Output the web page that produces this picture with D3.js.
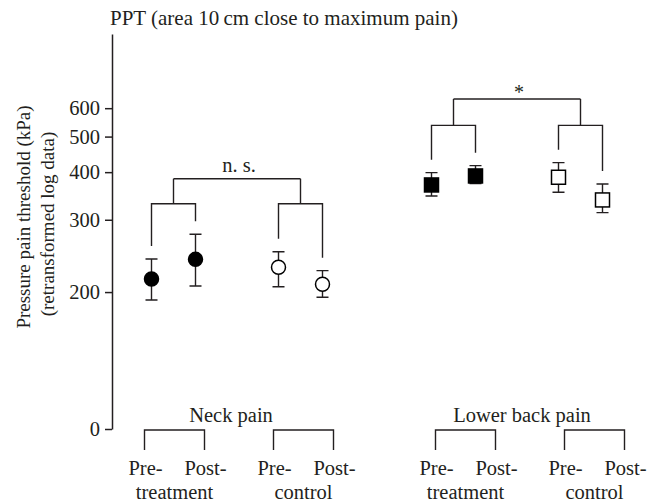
<!DOCTYPE html>
<html>
<head>
<meta charset="utf-8">
<script src="https://cdn.jsdelivr.net/npm/d3@7"></script>
<style>
    body { margin: 0; background: #fff; }
    .chartText { font-family: "Liberation Serif", "Times New Roman", serif; fill: #231f20; }
    .line { stroke: #231f20; stroke-width: 1.4; fill: none; }
</style>
</head>
<body>
<script>
(function(){
    //pseudo-global variables
    var groups = ["Neck pain", "Lower back pain"]; //body regions
    var arms = ["treatment", "control"]; //study arms
    var times = ["Pre-", "Post-"]; //measurement times

    //means and error bar ends in kPa, order: pre-treat, post-treat, pre-control, post-control
    var neckMean = [214.5, 239, 228.7, 208.5];
    var neckUpper = [239.5, 275.7, 249.5, 224.5];
    var neckLower = [191.8, 206.6, 205.8, 194.6];
    var backMean = [369.7, 390.7, 387.6, 337.6];
    var backUpper = [398.8, 416.5, 424.3, 372];
    var backLower = [345.8, 372.7, 353.6, 312.9];

    var tickValues = [200, 300, 400, 500, 600]; //y axis ticks (kPa)
    var subBracketLevel = [330, 537]; //kPa level of the arm brackets per group
    var topBracketLevel = [384, 637]; //kPa level of the group comparison bracket
    var significance = ["n. s.", "*"];

    var logOffset = 50; //axis is log of (kPa - 50)
    var fontSize = 20.5;

    window.onload = setChart;

    function setChart(){
        var width = 661,
            height = 504;

        var svg = d3.select("body")
            .append("svg")
            .attr("width", width)
            .attr("height", height);

        //log scale on shifted values, bottom of axis shows the "0" break
        var y = d3.scaleLog()
            .domain([57, 929])
            .range([429, 34]);

        function yPos(v){
            return y(v - logOffset);
        }

        //x scales for the data points
        var groupX = d3.scalePoint().domain(groups).range([237, 517]);
        var armX = d3.scalePoint().domain(arms).range([-63.5, 63.5]);
        var timeX = d3.scalePoint().domain(times).range([-22, 22]);

        //x scales for the category labels below the axis
        var labelGroupX = d3.scalePoint().domain(groups).range([239, 530]);
        var labelArmX = d3.scalePoint().domain(arms).range([-64.5, 64.5]);
        var labelTimeX = d3.scalePoint().domain(times).range([-30, 30]);

        //build point records
        var points = [];
        var allMean = [neckMean, backMean],
            allUpper = [neckUpper, backUpper],
            allLower = [neckLower, backLower];
        groups.forEach(function(g, gi){
            arms.forEach(function(a, ai){
                times.forEach(function(t, ti){
                    var k = ai * 2 + ti;
                    points.push({
                        group: g, arm: a, time: t, gi: gi,
                        mean: allMean[gi][k],
                        upper: allUpper[gi][k],
                        lower: allLower[gi][k],
                        x: groupX(g) + armX(a) + timeX(t)
                    });
                });
            });
        });

        //title
        svg.append("text")
            .attr("class", "chartText")
            .attr("x", 110)
            .attr("y", 25)
            .attr("font-size", 21)
            .text("PPT (area 10\u2009cm close to maximum pain)");

        //y axis
        var yAxis = d3.axisLeft(y)
            .tickValues([y.domain()[0]].concat(tickValues.map(function(v){ return v - logOffset; })))
            .tickFormat(function(d){
                return d === y.domain()[0] ? "0" : d + logOffset;
            })
            .tickSizeInner(7)
            .tickSizeOuter(0)
            .tickPadding(5);

        var axis = svg.append("g")
            .attr("transform", "translate(112,0)")
            .call(yAxis);
        axis.selectAll("path, line")
            .attr("stroke", "#231f20")
            .attr("stroke-width", 1.5);
        axis.selectAll("text")
            .attr("class", "chartText")
            .attr("font-size", fontSize);

        //y axis title
        var yTitle = svg.append("text")
            .attr("class", "chartText")
            .attr("font-size", 19)
            .attr("text-anchor", "middle")
            .attr("transform", "translate(30,217) rotate(-90)");
        yTitle.append("tspan").attr("x", 0).attr("y", 0).text("Pressure pain threshold (kPa)");
        yTitle.append("tspan").attr("x", -7).attr("y", 24).text("(retransformed log data)");

        //brackets above the data
        groups.forEach(function(g, gi){
            var subY = yPos(subBracketLevel[gi]),
                topY = yPos(topBracketLevel[gi]);
            arms.forEach(function(a){
                var pair = points.filter(function(p){ return p.group === g && p.arm === a; });
                var x0 = pair[0].x, x1 = pair[1].x;
                var legBottom0 = yPos(pair[0].upper) - 13,
                    legBottom1 = yPos(pair[1].upper) - 13;
                svg.append("path")
                    .attr("class", "line")
                    .attr("d", "M" + x0 + "," + legBottom0 + "V" + subY + "H" + x1 + "V" + legBottom1);
                //connector up to the group bracket
                svg.append("line")
                    .attr("class", "line")
                    .attr("x1", groupX(g) + armX(a)).attr("x2", groupX(g) + armX(a))
                    .attr("y1", subY).attr("y2", topY);
            });
            svg.append("line")
                .attr("class", "line")
                .attr("x1", groupX(g) + armX(arms[0]))
                .attr("x2", groupX(g) + armX(arms[1]))
                .attr("y1", topY).attr("y2", topY);
            svg.append("text")
                .attr("class", "chartText")
                .attr("x", groupX(g) + 2)
                .attr("y", topY - (gi === 0 ? 7 : 0))
                .attr("font-size", gi === 0 ? fontSize : 20)
                .attr("fill", gi === 0 ? "#231f20" : "#555")
                .attr("text-anchor", "middle")
                .text(significance[gi]);
        });

        //error bars
        var bars = svg.selectAll(".errBar")
            .data(points)
            .enter()
            .append("path")
            .attr("class", "line errBar")
            .attr("d", function(d){
                var yt = yPos(d.upper), yb = yPos(d.lower);
                return "M" + (d.x - 6) + "," + yt + "H" + (d.x + 6) +
                    "M" + d.x + "," + yt + "V" + yb +
                    "M" + (d.x - 6) + "," + yb + "H" + (d.x + 6);
            });

        //markers: circles for neck, squares for lower back
        svg.selectAll(".circleMark")
            .data(points.filter(function(p){ return p.gi === 0; }))
            .enter()
            .append("circle")
            .attr("class", "circleMark")
            .attr("cx", function(d){ return d.x; })
            .attr("cy", function(d){ return yPos(d.mean); })
            .attr("r", 7)
            .attr("fill", function(d){ return d.arm === "treatment" ? "#000" : "#fff"; })
            .attr("stroke", "#000")
            .attr("stroke-width", 1.5);

        svg.selectAll(".squareMark")
            .data(points.filter(function(p){ return p.gi === 1; }))
            .enter()
            .append("rect")
            .attr("class", "squareMark")
            .attr("x", function(d){ return d.x - 7; })
            .attr("y", function(d){ return yPos(d.mean) - 7; })
            .attr("width", 14)
            .attr("height", 14)
            .attr("fill", function(d){ return d.arm === "treatment" ? "#000" : "#fff"; })
            .attr("stroke", "#000")
            .attr("stroke-width", 1.5);

        //category labels under the axis
        groups.forEach(function(g){
            svg.append("text")
                .attr("class", "chartText")
                .attr("x", labelGroupX(g) - 8)
                .attr("y", 422)
                .attr("font-size", fontSize)
                .attr("text-anchor", "middle")
                .text(g);
            arms.forEach(function(a){
                var cx = labelGroupX(g) + labelArmX(a);
                var x0 = cx + labelTimeX(times[0]),
                    x1 = cx + labelTimeX(times[1]);
                svg.append("path")
                    .attr("class", "line")
                    .attr("d", "M" + x0 + ",450V430H" + x1 + "V450");
                times.forEach(function(t){
                    svg.append("text")
                        .attr("class", "chartText")
                        .attr("x", cx + labelTimeX(t) + 1)
                        .attr("y", 475)
                        .attr("font-size", fontSize)
                        .attr("text-anchor", "middle")
                        .text(t);
                });
                svg.append("text")
                    .attr("class", "chartText")
                    .attr("x", cx)
                    .attr("y", 499)
                    .attr("font-size", fontSize)
                    .attr("text-anchor", "middle")
                    .text(a);
            });
        });
    }
})();
</script>
</body>
</html>
